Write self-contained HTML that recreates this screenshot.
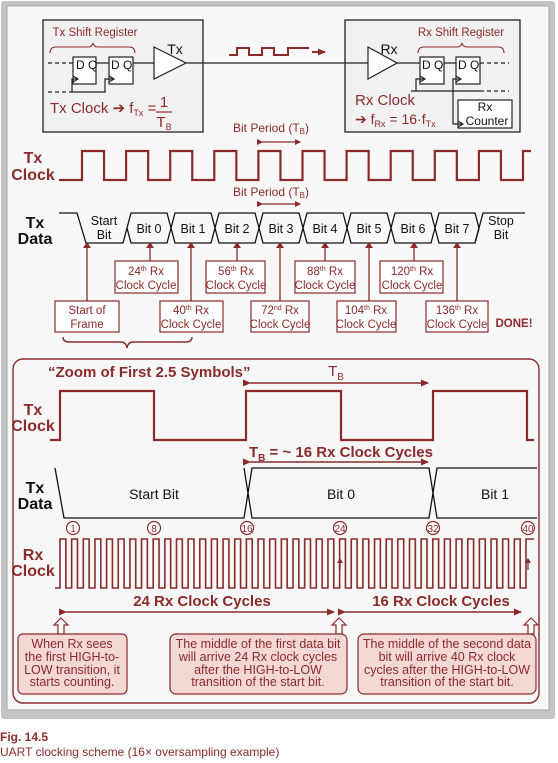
<!DOCTYPE html>
<html><head><meta charset="utf-8"><style>
html,body{margin:0;padding:0;background:#fff}
svg{display:block}
text{font-family:"Liberation Sans",Arial,sans-serif}
</style></head><body>
<svg width="558" height="763" viewBox="0 0 558 763" xmlns="http://www.w3.org/2000/svg">
<defs>
<marker id="ah" markerWidth="8" markerHeight="8" refX="7" refY="4" orient="auto" markerUnits="userSpaceOnUse"><path d="M0,0.5 L8,4 L0,7.5z" fill="#8b2a2a"/></marker>
<marker id="ahs" markerWidth="6" markerHeight="6" refX="5" refY="3" orient="auto" markerUnits="userSpaceOnUse"><path d="M0,0 L6,3 L0,6z" fill="#8b2a2a"/></marker>
</defs>
<!-- frame -->
<rect x="1" y="1" width="554" height="718" rx="3" fill="#c4c4c4"/>
<rect x="7" y="6" width="542" height="704" fill="#f8f8f8" stroke="#a8a8a8" stroke-width="1"/>

<!-- top boxes -->
<rect x="43" y="20" width="160" height="112" fill="#f1f1f1" stroke="#222" stroke-width="1.3"/>
<rect x="345" y="20" width="175" height="112" fill="#f1f1f1" stroke="#222" stroke-width="1.3"/>
<g fill="#8b2a2a" font-size="11.5">
<text x="95" y="36" text-anchor="middle">Tx Shift Register</text>
<text x="461" y="36" text-anchor="middle">Rx Shift Register</text>
</g>
<g fill="none" stroke="#8b2a2a" stroke-width="1.1">
<path d="M50,53 Q50,47 56,47 H88 Q92,47 93,43 Q94,47 98,47 H129 Q135,47 135,53"/>
<path d="M418,53 Q418,47 424,47 H457 Q461,47 462,43 Q463,47 467,47 H498 Q504,47 504,53"/>
</g>
<g stroke="#222" stroke-width="1.2" fill="#fff">
<rect x="73" y="57" width="23" height="27"/>
<rect x="109" y="57" width="24" height="27"/>
<rect x="420" y="57" width="24" height="27"/>
<rect x="456" y="57" width="24" height="27"/>
<rect x="458" y="100" width="54" height="28"/>
<path d="M154,47 L186,63 L154,79z"/>
<path d="M368,47 L397,63 L368,79z"/>
</g>
<g stroke="#222" stroke-width="1.2" fill="none">
<path d="M48,63 H73" stroke-dasharray="4,3"/>
<path d="M96,63 H109 M133,63 H154 M186,63 H368 M397,63 H420 M444,63 H456"/>
<path d="M480,63 H509" stroke-dasharray="4,3"/>
<path d="M48,92 H72" stroke-dasharray="4,3"/>
<path d="M72,92 V79 H78 M73,76 L78,79 L73,82 M72,92 H105 V79 H114 M109,76 L114,79 L109,82"/>
<path d="M411,91 H480 M416,91 V79 H425 M420,76 L425,79 L420,82 M453,91 V79 H461 M456,76 L461,79 L456,82 M453,91 V124 H463 M458,121 L463,124 L458,127"/>
<path d="M480,91 H509" stroke-dasharray="4,3"/>
</g>
<g fill="#111" font-size="12">
<text x="76" y="69">D Q</text><text x="111" y="69">D Q</text>
<text x="422" y="69">D Q</text><text x="458" y="69">D Q</text>
<text x="175" y="54" font-size="14" text-anchor="middle">Tx</text>
<text x="389" y="54" font-size="14" text-anchor="middle">Rx</text>
<text x="485" y="111" text-anchor="middle">Rx</text>
<text x="487" y="125" text-anchor="middle">Counter</text>
</g>
<path d="M229,55 H237 V48 H249 V55 H262 V48 H274 V55 H288 V48 H309" fill="none" stroke="#8b2a2a" stroke-width="2"/>
<path d="M312,52 H325" stroke="#8b2a2a" stroke-width="2" marker-end="url(#ah)"/>
<g fill="#8b2a2a" font-size="15">
<text x="50" y="113">Tx Clock ➔ f<tspan font-size="9" dy="3">Tx</tspan><tspan dy="-3"> =</tspan></text>
<text x="164" y="107" text-anchor="middle">1</text>
<text x="164" y="127" text-anchor="middle">T<tspan font-size="9" dy="3">B</tspan></text>
<text x="355" y="105">Rx Clock</text>
<text x="355" y="124" font-size="14">➔ f<tspan font-size="9" dy="3">Rx</tspan><tspan dy="-3"> = 16·f</tspan><tspan font-size="9" dy="3">Tx</tspan></text>
</g>
<path d="M156,112 H172" stroke="#8b2a2a" stroke-width="1.2"/>

<!-- Tx clock row -->
<g fill="#8b2a2a" font-size="12">
<text x="271" y="132" text-anchor="middle">Bit Period (T<tspan font-size="8" dy="2">B</tspan><tspan dy="-2">)</tspan></text>
<text x="271" y="196" text-anchor="middle">Bit Period (T<tspan font-size="8" dy="2">B</tspan><tspan dy="-2">)</tspan></text>
</g>
<path d="M262,142 H300" stroke="#8b2a2a" stroke-width="1.3" marker-start="url(#ahs)" marker-end="url(#ahs)"/>
<path d="M262,204 H300" stroke="#8b2a2a" stroke-width="1.3" marker-start="url(#ahs)" marker-end="url(#ahs)"/>
<g fill="#8b2a2a" font-size="16" font-weight="bold" text-anchor="middle">
<text x="33" y="163">Tx</text><text x="33" y="180">Clock</text>
</g>
<path d="M59,180 H82 V151 h22.05 V180 h22.05 V151 h22.05 V180 h22.05 V151 h22.05 V180 h22.05 V151 h22.05 V180 h22.05 V151 h22.05 V180 h22.05 V151 h22.05 V180 h22.05 V151 h22.05 V180 h22.05 V151 h22.05 V180 h22.05 V151 h22.05 V180 h22.05 V151 h22.05 V180 h22.05 V151 H531" fill="none" stroke="#8b2a2a" stroke-width="2.2"/>

<!-- Tx data row -->
<g fill="#111" font-size="16" font-weight="bold" text-anchor="middle">
<text x="35" y="228">Tx</text><text x="35" y="244">Data</text>
</g>
<g fill="none" stroke="#111" stroke-width="1.3">
<path d="M59,213 H77 L86,243 H123 L127,228"/>
<polygon points="127,228 131,213 167,213 171,228 167,243 131,243"/>
<polygon points="171,228 175,213 211,213 215,228 211,243 175,243"/>
<polygon points="215,228 219,213 255,213 259,228 255,243 219,243"/>
<polygon points="259,228 263,213 299,213 303,228 299,243 263,243"/>
<polygon points="303,228 307,213 343,213 347,228 343,243 307,243"/>
<polygon points="347,228 351,213 387,213 391,228 387,243 351,243"/>
<polygon points="391,228 395,213 431,213 435,228 431,243 395,243"/>
<polygon points="435,228 439,213 475,213 479,228 475,243 439,243"/>
<path d="M475,243 L483,213 H525"/>
</g>
<g fill="#111" font-size="12.5" text-anchor="middle">
<text x="104" y="225">Start</text><text x="104" y="239">Bit</text>
<text x="149" y="233">Bit 0</text><text x="193" y="233">Bit 1</text><text x="237" y="233">Bit 2</text>
<text x="281" y="233">Bit 3</text><text x="325" y="233">Bit 4</text><text x="369" y="233">Bit 5</text>
<text x="413" y="233">Bit 6</text><text x="457" y="233">Bit 7</text>
<text x="501" y="225">Stop</text><text x="501" y="239">Bit</text>
</g>
<g stroke="#8b2a2a" stroke-width="1.3" fill="none">
<path d="M150,261 V246 M237,261 V246 M325,261 V246 M414,261 V246 M87,301 V246 M191,301 V246 M280,301 V246 M369,301 V246 M457,301 V246"/>
</g>
<g fill="#8b2a2a">
<path d="M146,248 L150,242 L154,248z M233,248 L237,242 L241,248z M321,248 L325,242 L329,248z M410,248 L414,242 L418,248z M83,248 L87,242 L91,248z M187,248 L191,242 L195,248z M276,248 L280,242 L284,248z M365,248 L369,242 L373,248z M453,248 L457,242 L461,248z"/>
</g>
<g fill="#fff" stroke="#8b2a2a" stroke-width="1.2">
<rect x="115" y="261" width="63" height="32"/><rect x="206" y="261" width="59" height="32"/>
<rect x="295" y="261" width="60" height="32"/><rect x="380" y="261" width="63" height="32"/>
<rect x="55" y="301" width="64" height="31"/><rect x="160" y="301" width="63" height="31"/>
<rect x="251" y="301" width="58" height="31"/><rect x="337" y="301" width="59" height="31"/>
<rect x="426" y="301" width="62" height="31"/>
</g>
<g fill="#8b2a2a" font-size="11.5" text-anchor="middle">
<text x="146" y="275">24<tspan font-size="7" dy="-4">th</tspan><tspan dy="4"> Rx</tspan></text><text x="146" y="289">Clock Cycle</text>
<text x="236" y="275">56<tspan font-size="7" dy="-4">th</tspan><tspan dy="4"> Rx</tspan></text><text x="236" y="289">Clock Cycle</text>
<text x="325" y="275">88<tspan font-size="7" dy="-4">th</tspan><tspan dy="4"> Rx</tspan></text><text x="325" y="289">Clock Cycle</text>
<text x="412" y="275">120<tspan font-size="7" dy="-4">th</tspan><tspan dy="4"> Rx</tspan></text><text x="412" y="289">Clock Cycle</text>
<text x="87" y="314">Start of</text><text x="87" y="328">Frame</text>
<text x="191" y="314">40<tspan font-size="7" dy="-4">th</tspan><tspan dy="4"> Rx</tspan></text><text x="191" y="328">Clock Cycle</text>
<text x="280" y="314">72<tspan font-size="7" dy="-4">nd</tspan><tspan dy="4"> Rx</tspan></text><text x="280" y="328">Clock Cycle</text>
<text x="366" y="314">104<tspan font-size="7" dy="-4">th</tspan><tspan dy="4"> Rx</tspan></text><text x="366" y="328">Clock Cycle</text>
<text x="457" y="314">136<tspan font-size="7" dy="-4">th</tspan><tspan dy="4"> Rx</tspan></text><text x="457" y="328">Clock Cycle</text>
<text x="514" y="327" font-weight="bold" font-size="11.5">DONE!</text>
</g>
<path d="M63,337 Q63,342 69,342 H121 Q126,342 127,348 Q128,342 133,342 H186 Q192,342 192,337" fill="none" stroke="#8b2a2a" stroke-width="1.4"/>

<!-- zoom section -->
<rect x="13" y="359" width="526" height="344" rx="10" fill="#f7f7f7" stroke="#8b2a2a" stroke-width="1.4"/>
<text x="48" y="377" fill="#8b2a2a" font-size="15" font-weight="bold">“Zoom of First 2.5 Symbols”</text>
<text x="336" y="376" fill="#8b2a2a" font-size="15" text-anchor="middle">T<tspan font-size="10" dy="4">B</tspan></text>
<path d="M250,383 H428" stroke="#8b2a2a" stroke-width="1.6" marker-start="url(#ah)" marker-end="url(#ah)"/>
<g fill="#8b2a2a" font-size="16" font-weight="bold" text-anchor="middle">
<text x="33" y="415">Tx</text><text x="33" y="431">Clock</text>
<text x="33" y="560">Rx</text><text x="33" y="576">Clock</text>
</g>
<path d="M50,440 H60 V391 H154 V440 H246 V391 H341 V440 H433 V391 H527 V440 H534" fill="none" stroke="#8b2a2a" stroke-width="2.2"/>
<text x="341" y="457" fill="#8b2a2a" font-size="15" font-weight="bold" text-anchor="middle">T<tspan font-size="10" dy="4">B</tspan><tspan dy="-4">  = ~ 16 Rx Clock Cycles</tspan></text>
<path d="M250,462 H428" stroke="#8b2a2a" stroke-width="1.6" marker-start="url(#ah)" marker-end="url(#ah)"/>
<g fill="#111" font-size="16" font-weight="bold" text-anchor="middle">
<text x="35" y="493">Tx</text><text x="35" y="509">Data</text>
</g>
<g fill="none" stroke="#111" stroke-width="1.3">
<path d="M55,468 L64,518 H244 L252,468 H429 L437,518 H537"/>
<path d="M244,468 L252,518 H429 L437,468 H537"/>
<path d="M244,468 H244"/>
</g>
<g fill="#111" font-size="14" text-anchor="middle">
<text x="154" y="499">Start Bit</text><text x="341" y="499">Bit 0</text><text x="495" y="499">Bit 1</text>
</g>
<g fill="#fff" stroke="#8b2a2a" stroke-width="1.2">
<circle cx="73" cy="528" r="6.5"/><circle cx="154" cy="528" r="6.5"/><circle cx="247" cy="528" r="6.5"/>
<circle cx="340" cy="528" r="6.5"/><circle cx="433" cy="528" r="6.5"/><circle cx="528" cy="528" r="6.5"/>
</g>
<g fill="#8b2a2a" font-size="10" text-anchor="middle">
<text x="73" y="532">1</text><text x="154" y="532">8</text><text x="247" y="532">16</text>
<text x="340" y="532">24</text><text x="433" y="532">32</text><text x="528" y="532">40</text>
</g>
<path d="M55,588 H60 v-49h5.825v49h5.825 v-49h5.825v49h5.825 v-49h5.825v49h5.825 v-49h5.825v49h5.825 v-49h5.825v49h5.825 v-49h5.825v49h5.825 v-49h5.825v49h5.825 v-49h5.825v49h5.825 v-49h5.825v49h5.825 v-49h5.825v49h5.825 v-49h5.825v49h5.825 v-49h5.825v49h5.825 v-49h5.825v49h5.825 v-49h5.825v49h5.825 v-49h5.825v49h5.825 v-49h5.825v49h5.825 v-49h5.825v49h5.825 v-49h5.825v49h5.825 v-49h5.825v49h5.825 v-49h5.825v49h5.825 v-49h5.825v49h5.825 v-49h5.825v49h5.825 v-49h5.825v49h5.825 v-49h5.825v49h5.825 v-49h5.825v49h5.825 v-49h5.825v49h5.825 v-49h5.825v49h5.825 v-49h5.825v49h5.825 v-49h5.825v49h5.825 v-49h5.825v49h5.825 v-49h5.825v49h5.825 v-49h5.825v49h5.825 v-49h5.825v49h5.825 v-49h5.825v49h5.825 v-49h5.825v49h5.825 v-49h5.825v49h5.825 v-49h5.825v49h5.825 v-49h5.825v49h5.825 v-49h5.825v49h5.825 v-49h5.825v49h5.825 v-49h8" fill="none" stroke="#8b2a2a" stroke-width="1.6"/>
<g fill="#8b2a2a"><path d="M337,563 L340,558 L343,563z M525,563 L528,558 L531,563z"/></g>
<path d="M340,563 V570 M528,563 V570" stroke="#8b2a2a" stroke-width="1.2"/>
<g fill="#8b2a2a" font-size="15" font-weight="bold" text-anchor="middle">
<text x="202" y="606">24 Rx Clock Cycles</text><text x="441" y="606">16 Rx Clock Cycles</text>
</g>
<path d="M66,612 H334" stroke="#8b2a2a" stroke-width="1.6" marker-start="url(#ah)" marker-end="url(#ah)"/>
<path d="M345,612 H521" stroke="#8b2a2a" stroke-width="1.6" marker-start="url(#ah)" marker-end="url(#ah)"/>
<g fill="#fff" stroke="#8b2a2a" stroke-width="1.2">
<path d="M61,618 L68,625 H64 V634 H58 V625 H54z"/>
<path d="M339,618 L346,625 H342 V634 H336 V625 H332z"/>
<path d="M531,618 L538,625 H534 V634 H528 V625 H524z"/>
</g>
<g fill="#f4d8d6" stroke="#8b2a2a" stroke-width="1.2">
<rect x="18" y="634" width="109" height="60" rx="5"/>
<rect x="170" y="634" width="177" height="60" rx="6"/>
<rect x="358" y="634" width="178" height="60" rx="6"/>
</g>
<g fill="#8b2a2a" font-size="12.5" text-anchor="middle">
<text x="72" y="648">When Rx sees</text><text x="72" y="661">the first HIGH-to-</text><text x="72" y="674">LOW transition, it</text><text x="72" y="686">starts counting.</text>
<text x="258" y="648">The middle of the first data bit</text><text x="258" y="661">will arrive 24 Rx clock cycles</text><text x="258" y="674">after the HIGH-to-LOW</text><text x="258" y="686">transition of the start bit.</text>
<text x="447" y="648">The middle of the second data</text><text x="447" y="661">bit will arrive 40 Rx clock</text><text x="447" y="674">cycles after the HIGH-to-LOW</text><text x="447" y="686">transition of the start bit.</text>
</g>
<text x="0" y="741" fill="#8b2a2a" font-size="12" font-weight="bold">Fig. 14.5</text>
<text x="0" y="756" fill="#8b2a2a" font-size="12">UART clocking scheme (16× oversampling example)</text>
</svg>
</body></html>
